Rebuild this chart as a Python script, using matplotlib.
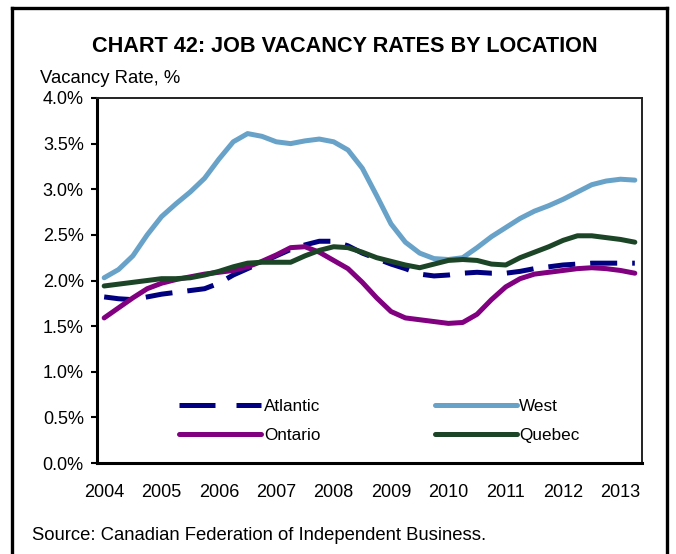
import matplotlib.pyplot as plt
from matplotlib.lines import Line2D
import numpy as np

plt.rcParams['font.family'] = ['Liberation Sans', 'DejaVu Sans']

# 季度数据：2004Q1 - 2013Q2
quarters = [y + q / 4 for y in range(2004, 2014) for q in range(4)][:38]
years = list(range(2004, 2014))

atlantic = [1.82, 1.80, 1.79, 1.82, 1.85, 1.87, 1.89, 1.91, 1.97, 2.06,
            2.13, 2.20, 2.27, 2.34, 2.39, 2.43, 2.43, 2.38, 2.30, 2.24,
            2.18, 2.13, 2.07, 2.05, 2.06, 2.08, 2.09, 2.08, 2.08, 2.10,
            2.13, 2.15, 2.17, 2.18, 2.19, 2.19, 2.19, 2.19]
west = [2.03, 2.12, 2.27, 2.50, 2.70, 2.84, 2.97, 3.12, 3.33, 3.52,
        3.61, 3.58, 3.52, 3.50, 3.53, 3.55, 3.52, 3.43, 3.23, 2.93,
        2.62, 2.42, 2.30, 2.24, 2.23, 2.25, 2.36, 2.48, 2.58, 2.68,
        2.76, 2.82, 2.89, 2.97, 3.05, 3.09, 3.11, 3.10]
ontario = [1.59, 1.70, 1.81, 1.91, 1.97, 2.01, 2.04, 2.07, 2.09, 2.11,
           2.15, 2.21, 2.28, 2.36, 2.37, 2.31, 2.22, 2.13, 1.98, 1.81,
           1.66, 1.59, 1.57, 1.55, 1.53, 1.54, 1.63, 1.79, 1.93, 2.02,
           2.07, 2.09, 2.11, 2.13, 2.14, 2.13, 2.11, 2.08]
quebec = [1.94, 1.96, 1.98, 2.00, 2.02, 2.02, 2.03, 2.06, 2.10, 2.15,
          2.19, 2.20, 2.20, 2.20, 2.27, 2.33, 2.37, 2.36, 2.31, 2.25,
          2.21, 2.17, 2.14, 2.18, 2.22, 2.23, 2.22, 2.18, 2.17, 2.25,
          2.31, 2.37, 2.44, 2.49, 2.49, 2.47, 2.45, 2.42]

c_atl = '#000080'
c_west = '#68A2C8'
c_ont = '#800080'
c_que = '#1B4526'

fig = plt.figure(figsize=(6.76, 5.54), dpi=100)
ax = fig.add_axes([97 / 676, 1 - 463 / 554, 545 / 676, 365 / 554])

lw = 3.6
ax.plot(quarters, west, color=c_west, lw=lw, solid_capstyle='round', zorder=2)
ax.plot(quarters, atlantic, color=c_atl, lw=lw, dashes=(5.4, 3.0), zorder=3)
ax.plot(quarters, ontario, color=c_ont, lw=lw, solid_capstyle='round', zorder=4)
ax.plot(quarters, quebec, color=c_que, lw=lw, solid_capstyle='round', zorder=5)

ax.set_xlim(2004 - 0.125, 2013.25 + 0.125)
ax.set_ylim(0, 4)
ax.set_yticks(np.arange(0, 4.01, 0.5))
ax.set_yticklabels([f'{v:.1f}%' for v in np.arange(0, 4.01, 0.5)])
ax.set_xticks(years)
ax.set_xticklabels([str(y) for y in years])

ax.tick_params(axis='y', length=4.5, width=1.5, pad=5, labelsize=13, direction='out')
ax.tick_params(axis='x', length=0, pad=15, labelsize=13)

for side in ['left', 'bottom']:
    ax.spines[side].set_linewidth(2.2)
for side in ['top', 'right']:
    ax.spines[side].set_linewidth(1.4)
    ax.spines[side].set_color('#222222')

# 图例：两列，放在图内下方
handles = [
    Line2D([], [], color=c_atl, lw=lw, dashes=(7.2, 4.2)),
    Line2D([], [], color=c_ont, lw=lw, solid_capstyle='round'),
    Line2D([], [], color=c_west, lw=lw, solid_capstyle='round'),
    Line2D([], [], color=c_que, lw=lw, solid_capstyle='round'),
]
labels = ['Atlantic', 'Ontario', 'West', 'Quebec']
ax.legend(handles, labels, ncol=2, frameon=False, fontsize=12.3,
          loc='lower left', bbox_to_anchor=(0.123, 0.013),
          handlelength=4.8, handletextpad=0.15, columnspacing=6.7,
          labelspacing=0.8)

fig.text(345 / 676, 1 - 52 / 554, 'CHART 42: JOB VACANCY RATES BY LOCATION',
         ha='center', va='baseline', fontsize=15.6, fontweight='bold')
fig.text(40 / 676, 1 - 83 / 554, 'Vacancy Rate, %', ha='left', va='baseline', fontsize=13.3)
fig.text(32 / 676, 1 - 540 / 554, 'Source: Canadian Federation of Independent Business.',
         ha='left', va='baseline', fontsize=13.3)

# 外框
border = dict(color='black', lw=2.4, transform=fig.transFigure, clip_on=False)
fig.add_artist(Line2D([12 / 676, 12 / 676], [0, 1 - 8 / 554], **border))
fig.add_artist(Line2D([12 / 676, 667 / 676], [1 - 8 / 554, 1 - 8 / 554], **border))
fig.add_artist(Line2D([667 / 676, 667 / 676], [1 - 8 / 554, 0], **border))

fig.savefig('out.png', dpi=100)
